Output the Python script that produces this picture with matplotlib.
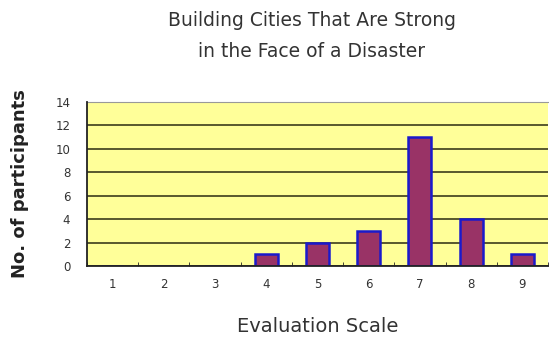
import numpy as np
import matplotlib.pyplot as plt

# datos del gráfico
categories = ['1', '2', '3', '4', '5', '6', '7', '8', '9']
participants = [0, 0, 0, 1, 2, 3, 11, 4, 1]
yticks = [0, 2, 4, 6, 8, 10, 12, 14]

fig = plt.figure(figsize=(5.49, 3.42), dpi=100)
ax = fig.add_axes([87 / 549, 76 / 342, 461 / 549, 164 / 342])
ax.set_facecolor('#ffff99')

x = np.arange(len(categories))
ax.bar(x, participants, width=0.45, color='#993366', edgecolor='#1a1acc',
       linewidth=1.8, zorder=3)

ax.set_xlim(-0.5, len(categories) - 0.5)
ax.set_ylim(0, 14)
ax.set_yticks(yticks)
ax.yaxis.grid(True, color='#2b2b10', linewidth=1.1, zorder=1)

ax.set_xticks(x)
ax.set_xticklabels(categories, fontsize=8.5, color='#333333')
ax.set_xticks(np.arange(len(categories) + 1) - 0.5, minor=True)
ax.tick_params(axis='x', which='major', length=0, pad=9)
ax.tick_params(axis='x', which='minor', direction='in', length=3, color='#222222')
ax.tick_params(axis='y', length=0, labelsize=8.5, labelcolor='#333333', pad=12)

for side in ['left', 'bottom']:
    ax.spines[side].set_color('#222222')
    ax.spines[side].set_linewidth(1.3)
    ax.spines[side].set_zorder(4)
ax.spines['top'].set_color('#999999')
ax.spines['right'].set_visible(False)

ax.set_ylabel('No. of participants', fontsize=13, fontweight='bold',
              color='#222222')
ax.yaxis.set_label_coords(-0.125, 0.5)
ax.set_xlabel('Evaluation Scale', fontsize=14, color='#333333', labelpad=18)
fig.text(0.568, 0.967, 'Building Cities That Are Strong\nin the Face of a Disaster',
         ha='center', va='top', fontsize=13.5, color='#333333', linespacing=1.75)

plt.savefig('out.png', dpi=100)
